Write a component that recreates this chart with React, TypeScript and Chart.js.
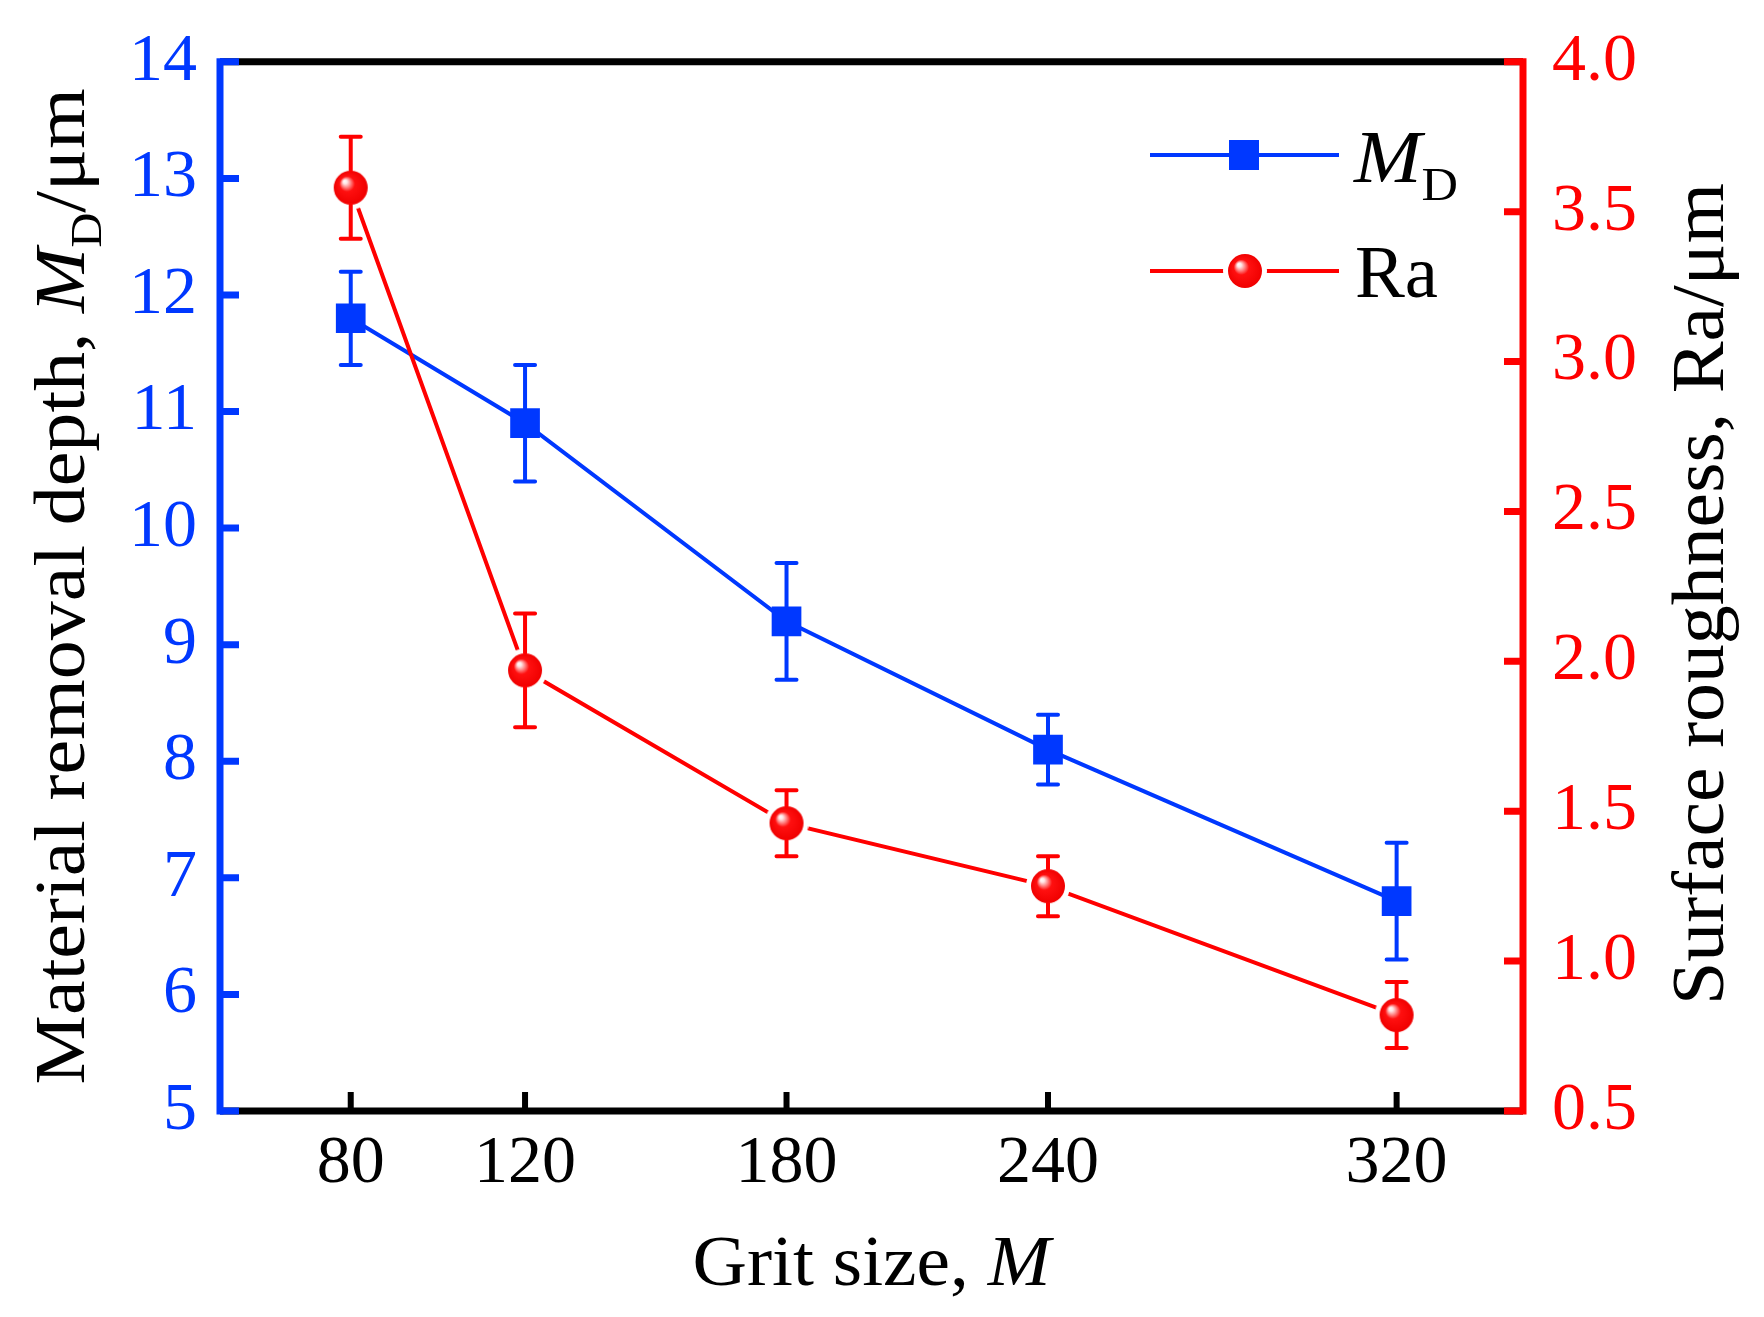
import { useEffect, useRef } from 'react';
import { Chart, registerables } from 'chart.js';

Chart.register(...registerables);

const gritSizes = [80, 120, 180, 240, 320];
const depthValues = [11.8, 10.9, 9.2, 8.1, 6.8];
const depthErrors = [0.4, 0.5, 0.5, 0.3, 0.5];
const roughnessValues = [3.58, 1.97, 1.46, 1.25, 0.82];
const roughnessErrors = [0.17, 0.19, 0.11, 0.1, 0.11];
const depthTicks = [5, 6, 7, 8, 9, 10, 11, 12, 13, 14];
const roughnessTicks = [0.5, 1.0, 1.5, 2.0, 2.5, 3.0, 3.5, 4.0];

const BLUE = '#0038ff';
const RED = '#ff0000';
const FONT = '"Liberation Serif", "Times New Roman", serif';
const BALL_R = 17;
const RING = 5;

type Run = { text: string; italic?: boolean; sub?: boolean };

function makeBall(r: number, ring: number) {
  const size = Math.ceil((r + ring) * 2);
  const c = document.createElement('canvas');
  c.width = size;
  c.height = size;
  const ctx = c.getContext('2d');
  if (!ctx) return c;
  const cx = size / 2;
  const cy = size / 2;
  if (ring > 0) {
    ctx.fillStyle = '#ffffff';
    ctx.beginPath();
    ctx.arc(cx, cy, r + ring, 0, Math.PI * 2);
    ctx.fill();
  }
  const hx = cx - r * 0.38;
  const hy = cy - r * 0.4;
  const g = ctx.createRadialGradient(hx, hy, 0, cx, cy, r);
  g.addColorStop(0, '#ffffff');
  g.addColorStop(0.12, '#ffe8e8');
  g.addColorStop(0.28, '#ff8080');
  g.addColorStop(0.45, '#ff1010');
  g.addColorStop(1, '#f00000');
  ctx.fillStyle = g;
  ctx.beginPath();
  ctx.arc(cx, cy, r, 0, Math.PI * 2);
  ctx.fill();
  return c;
}

// draws mixed italic / subscript text; if width is given the run is stretched to it
function drawRuns(ctx: CanvasRenderingContext2D, runs: Run[], x: number, y: number, size: number, align: 'center' | 'left', width?: number) {
  const fontFor = (r: Run) => `${r.italic ? 'italic ' : ''}${r.sub ? Math.round(size * 0.62) : size}px ${FONT}`;
  let total = 0;
  runs.forEach((r) => {
    ctx.font = fontFor(r);
    total += ctx.measureText(r.text).width;
  });
  const sx = width ? width / total : 1;
  ctx.save();
  ctx.translate(x, y);
  ctx.scale(sx, 1);
  let cx = align === 'center' ? -total / 2 : 0;
  ctx.textAlign = 'left';
  ctx.textBaseline = 'alphabetic';
  runs.forEach((r) => {
    ctx.font = fontFor(r);
    ctx.fillText(r.text, cx, r.sub ? size * 0.24 : 0);
    cx += ctx.measureText(r.text).width;
  });
  ctx.restore();
}

const App = () => {
  const chartRef = useRef<HTMLCanvasElement>(null);

  useEffect(() => {
    let chart: Chart | undefined;
    if (!chartRef.current) return;
    const ctx = chartRef.current.getContext('2d');
    if (!ctx) return;

    const ball = makeBall(BALL_R, RING);

    // error bars, drawn after the lines so they start at the marker edge
    const errorBars = {
      id: 'errorBars',
      afterDatasetsDraw(c: any) {
        const g = c.ctx;
        const sets = [
          { values: depthValues, errors: depthErrors, axis: 'y', color: BLUE, gap: 14 },
          { values: roughnessValues, errors: roughnessErrors, axis: 'y1', color: RED, gap: BALL_R },
        ];
        g.save();
        g.lineWidth = 4;
        g.lineCap = 'round';
        sets.forEach((s) => {
          const ys = c.scales[s.axis];
          g.strokeStyle = s.color;
          s.values.forEach((v, i) => {
            const x = c.scales.x.getPixelForValue(gritSizes[i]);
            const yc = ys.getPixelForValue(v);
            const yt = ys.getPixelForValue(v + s.errors[i]);
            const yb = ys.getPixelForValue(v - s.errors[i]);
            g.beginPath();
            g.moveTo(x, yt);
            g.lineTo(x, yc - s.gap);
            g.moveTo(x, yc + s.gap);
            g.lineTo(x, yb);
            g.moveTo(x - 10, yt);
            g.lineTo(x + 10, yt);
            g.moveTo(x - 10, yb);
            g.lineTo(x + 10, yb);
            g.stroke();
          });
        });
        g.restore();
      },
    };

    // frame, inward ticks, axis titles and legend
    const frame = {
      id: 'frame',
      afterDraw(c: any) {
        const g = c.ctx;
        const { left, right, top, bottom } = c.chartArea;
        const tick = 19;
        g.save();
        g.lineWidth = 7;
        g.lineCap = 'butt';
        g.strokeStyle = '#000';
        g.beginPath();
        g.moveTo(left, top);
        g.lineTo(right, top);
        g.moveTo(left, bottom);
        g.lineTo(right, bottom);
        g.stroke();
        g.lineWidth = 6;
        g.beginPath();
        gritSizes.forEach((v) => {
          const x = c.scales.x.getPixelForValue(v);
          g.moveTo(x, bottom);
          g.lineTo(x, bottom - tick);
        });
        g.stroke();

        g.strokeStyle = BLUE;
        g.lineWidth = 7;
        g.beginPath();
        g.moveTo(left, top - 3.5);
        g.lineTo(left, bottom + 3.5);
        g.stroke();
        g.beginPath();
        depthTicks.forEach((v) => {
          const y = c.scales.y.getPixelForValue(v);
          g.moveTo(left, y);
          g.lineTo(left + tick, y);
        });
        g.stroke();

        g.strokeStyle = RED;
        g.beginPath();
        g.moveTo(right, top - 3.5);
        g.lineTo(right, bottom + 3.5);
        g.stroke();
        g.beginPath();
        roughnessTicks.forEach((v) => {
          const y = c.scales.y1.getPixelForValue(v);
          g.moveTo(right, y);
          g.lineTo(right - tick, y);
        });
        g.stroke();

        g.fillStyle = '#000';
        const midY = (top + bottom) / 2;
        g.save();
        g.translate(84, midY);
        g.rotate(-Math.PI / 2);
        drawRuns(g, [
          { text: 'Material removal depth, ' },
          { text: 'M', italic: true },
          { text: 'D', sub: true },
          { text: '/\u03bcm' },
        ], 0, 0, 72, 'center', 996);
        g.restore();

        g.save();
        g.translate(1723, 594);
        g.rotate(-Math.PI / 2);
        drawRuns(g, [{ text: 'Surface roughness, Ra/\u03bcm' }], 0, 0, 74, 'center', 822);
        g.restore();

        drawRuns(g, [{ text: 'Grit size, ' }, { text: 'M', italic: true }], (left + right) / 2, 1285, 72, 'center', 358);

        // legend
        g.lineWidth = 4;
        g.strokeStyle = BLUE;
        g.beginPath();
        g.moveTo(1150, 155);
        g.lineTo(1339, 155);
        g.stroke();
        g.fillStyle = BLUE;
        g.fillRect(1244 - 15, 155 - 15, 30, 30);
        g.strokeStyle = RED;
        g.beginPath();
        g.moveTo(1150, 271);
        g.lineTo(1339, 271);
        g.stroke();
        g.drawImage(ball, 1245 - ball.width / 2, 271 - ball.height / 2);
        g.fillStyle = '#000';
        drawRuns(g, [{ text: 'M', italic: true }, { text: 'D', sub: true }], 1354, 182, 74, 'left', 104);
        drawRuns(g, [{ text: 'Ra' }], 1355, 297, 74, 'left', 83);
        g.restore();
      },
    };

    chart = new Chart(ctx, {
      type: 'line',
      data: {
        datasets: [
          {
            label: 'MD',
            data: gritSizes.map((x, i) => ({ x, y: depthValues[i] })),
            yAxisID: 'y',
            borderColor: BLUE,
            borderWidth: 4,
            backgroundColor: BLUE,
            pointStyle: 'rect',
            pointRadius: 21,
            pointBorderWidth: 0,
            pointBackgroundColor: BLUE,
            tension: 0,
            order: 2,
          },
          {
            label: 'Ra',
            data: gritSizes.map((x, i) => ({ x, y: roughnessValues[i] })),
            yAxisID: 'y1',
            borderColor: RED,
            borderWidth: 4,
            backgroundColor: RED,
            pointStyle: ball,
            pointRadius: BALL_R,
            pointBorderWidth: 0,
            tension: 0,
            order: 1,
          },
        ],
      },
      options: {
        responsive: true,
        maintainAspectRatio: false,
        animation: false,
        layout: { padding: { top: 40, left: 0, right: 0, bottom: 0 } },
        plugins: {
          legend: { display: false },
          tooltip: { enabled: false },
        },
        scales: {
          x: {
            type: 'linear',
            min: 50,
            max: 349,
            grid: { display: false },
            border: { display: false },
            afterBuildTicks: (scale: any) => {
              scale.ticks = gritSizes.map((value) => ({ value }));
            },
            afterFit: (scale: any) => {
              scale.height = 206;
            },
            ticks: {
              color: '#000',
              padding: 4,
              font: { family: FONT, size: 68 },
              callback: (v: any) => String(v),
            },
          },
          y: {
            type: 'linear',
            position: 'left',
            min: 5,
            max: 14,
            grid: { display: false },
            border: { display: false },
            afterBuildTicks: (scale: any) => {
              scale.ticks = depthTicks.map((value) => ({ value }));
            },
            afterFit: (scale: any) => {
              scale.width = 220;
            },
            ticks: {
              color: BLUE,
              padding: 15,
              font: { family: FONT, size: 68 },
            },
          },
          y1: {
            type: 'linear',
            position: 'right',
            min: 0.5,
            max: 4.0,
            grid: { display: false },
            border: { display: false },
            afterBuildTicks: (scale: any) => {
              scale.ticks = roughnessTicks.map((value) => ({ value }));
            },
            afterFit: (scale: any) => {
              scale.width = 241;
            },
            ticks: {
              color: RED,
              padding: 21,
              font: { family: FONT, size: 68 },
              callback: (v: any) => Number(v).toFixed(1),
            },
          },
        },
      },
      plugins: [errorBars, frame],
    });

    return () => {
      chart?.destroy();
    };
  }, []);

  return (
    <div style={{ position: 'absolute', left: 0, top: 0, width: 1764, height: 1317, background: '#fff' }}>
      <canvas ref={chartRef}></canvas>
    </div>
  );
};

export default App;
